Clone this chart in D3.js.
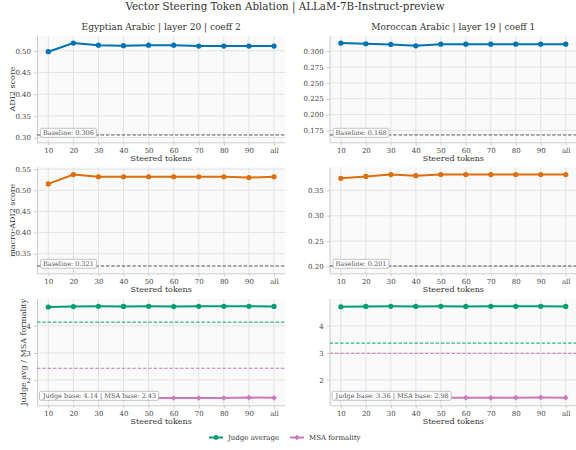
<!DOCTYPE html>
<html><head><meta charset="utf-8">
<script src="https://cdn.jsdelivr.net/npm/d3@7"></script>
<style>
html,body{margin:0;padding:0;background:#fff;}
svg{display:block;}
text{font-family:"DejaVu Serif",serif;}
</style></head>
<body>
<svg id="chart" width="576" height="450"></svg>
<script>
const tokens = ["10","20","30","40","50","60","70","80","90","all"];
const egyAdi2  = [0.498,0.518,0.513,0.512,0.513,0.513,0.511,0.511,0.511,0.511];
const morAdi2  = [0.3127,0.3116,0.3105,0.3084,0.311,0.311,0.311,0.311,0.311,0.311];
const egyMacro = [0.515,0.537,0.532,0.532,0.532,0.532,0.532,0.532,0.530,0.532];
const morMacro = [0.3736,0.3775,0.381,0.379,0.381,0.381,0.381,0.381,0.381,0.381];
const egyJudge = [4.70,4.715,4.725,4.72,4.725,4.715,4.725,4.725,4.725,4.72];
const egyMsa   = [1.33,1.33,1.33,1.33,1.33,1.33,1.33,1.33,1.345,1.335];
const morJudge = [4.70,4.715,4.72,4.715,4.72,4.715,4.72,4.72,4.72,4.715];
const morMsa   = [1.33,1.33,1.33,1.33,1.335,1.34,1.335,1.34,1.35,1.34];
const adi2Base  = [0.306, 0.168];
const macroBase = [0.321, 0.201];
const judgeBase = [4.14, 3.36];
const msaBase   = [2.43, 2.98];
const colTitles = ["Egyptian Arabic | layer 20 | coeff 2", "Moroccan Arabic | layer 19 | coeff 1"];
const mainTitle = "Vector Steering Token Ablation | ALLaM-7B-Instruct-preview";
const rowLabels = ["ADI2 score", "macro-ADI2 score", "Judge avg / MSA formality"];
const xLabel = "Steered tokens";
const ticksAdi2 = [[0.30,0.35,0.40,0.45,0.50],[0.175,0.200,0.225,0.250,0.275,0.300]];
const ticksMacro = [[0.35,0.40,0.45,0.50,0.55],[0.20,0.25,0.30,0.35]];
const ticksJudge = [[2,3,4],[2,3,4]];
const legendLabels = ["Judge average","MSA formality"];

const C = {blue:"#0173b2", orange:"#de6f0b", green:"#029e73", pink:"#cc78bc"};
const svg = d3.select("#chart");

const colX = [[37,285.3],[329.6,577]];
const rowY = [[35.7,142.3],[167.3,273.3],[299,405.3]];

svg.append("text").attr("x",285).attr("y",10).attr("text-anchor","middle")
  .attr("font-size",10.3).attr("fill","#333").text(mainTitle);

function panel(r,c,spec){
  const [x0,x1]=colX[c],[y0,y1]=rowY[r];
  const x=d3.scaleLinear().domain([-0.45,9.45]).range([x0,x1]);
  const all=spec.series.flatMap(s=>s.values).concat(spec.lowExtra||[]);
  const lo=d3.min(all), hi=d3.max(all), pad=0.08*(hi-lo);
  const y=d3.scaleLinear().domain([lo-pad,hi+pad]).range([y1,y0]);
  const g=svg.append("g");
  const clipId=`clip${r}${c}`;
  svg.append("clipPath").attr("id",clipId).append("rect").attr("x",x0).attr("y",y0).attr("width",x1-x0).attr("height",y1-y0);
  g.append("rect").attr("x",x0).attr("y",y0).attr("width",x1-x0).attr("height",y1-y0).attr("fill","#fafafa");
  // grid
  g.selectAll(".vg").data(tokens).join("line").attr("x1",(d,i)=>x(i)).attr("x2",(d,i)=>x(i))
    .attr("y1",y0).attr("y2",y1).attr("stroke","#e3e3e3").attr("stroke-width",1);
  g.selectAll(".hg").data(spec.ticks).join("line").attr("x1",x0).attr("x2",x1)
    .attr("y1",d=>y(d)).attr("y2",d=>y(d)).attr("stroke","#e3e3e3").attr("stroke-width",1);
  // axes
  const xa=d3.axisBottom(x).tickValues(d3.range(tokens.length)).tickFormat(i=>tokens[i]).tickSize(3).tickSizeOuter(0);
  const ya=d3.axisLeft(y).tickValues(spec.ticks).tickFormat(spec.fmt).tickSize(3).tickSizeOuter(0);
  const gx=g.append("g").attr("transform",`translate(0,${y1})`).call(xa);
  const gy=g.append("g").attr("transform",`translate(${x0},0)`).call(ya);
  [gx,gy].forEach(a=>{
    a.attr("font-family","DejaVu Serif");
    a.select(".domain").attr("stroke","#cccccc").attr("stroke-width",1);
    a.selectAll(".tick line").attr("stroke","#cccccc");
    a.selectAll(".tick text").attr("font-family","DejaVu Serif").attr("font-size",7).attr("fill","#444");
  });
  gx.select(".domain").attr("d",`M${x0},0.5H${x1}`);
  gy.select(".domain").attr("d",`M0.5,${y0}V${y1}`);
  svg.append("text").attr("x",(x0+x1)/2).attr("y",y1+19).attr("text-anchor","middle")
    .attr("font-size",8).attr("fill","#333").text(xLabel);
  if(c===0){
    const lx = r===2?23:12;
    svg.append("text").attr("transform",`translate(${lx+3},${(y0+y1)/2}) rotate(-90)`)
      .attr("text-anchor","middle").attr("font-size",8).attr("fill","#333").text(rowLabels[r]);
  }
  if(r===0){
    svg.append("text").attr("x",(x0+x1)/2).attr("y",30).attr("text-anchor","middle")
      .attr("font-size",9).attr("fill","#333").text(colTitles[c]);
  }
  const pg=g.append("g").attr("clip-path",`url(#${clipId})`);
  // baselines
  spec.bases.forEach(b=>{
    pg.append("line").attr("x1",x0).attr("x2",x1).attr("y1",y(b.v)).attr("y2",y(b.v))
      .attr("stroke",b.color).attr("stroke-width",1).attr("stroke-dasharray","3.5,1.8");
  });
  // series
  const line=d3.line().x((d,i)=>x(i)).y(d=>y(d));
  spec.series.forEach(s=>{
    pg.append("path").attr("d",line(s.values)).attr("fill","none").attr("stroke",s.color).attr("stroke-width",2);
    if(s.marker==="D"){
      pg.selectAll(null).data(s.values).join("path")
        .attr("d",d3.symbol(d3.symbolSquare,16))
        .attr("transform",(d,i)=>`translate(${x(i)},${y(d)}) rotate(45)`).attr("fill",s.color);
    } else {
      pg.selectAll(null).data(s.values).join("circle").attr("cx",(d,i)=>x(i)).attr("cy",d=>y(d))
        .attr("r",2.6).attr("fill",s.color);
    }
  });
  // annotation box
  const t=svg.append("text").attr("x",x0+6).attr("y",y1-7.5).attr("font-size",6.5).attr("fill","#555").text(spec.note);
  const bb=t.node().getBBox();
  svg.insert("rect",()=>t.node()).attr("x",bb.x-2.5).attr("y",bb.y-0.5).attr("width",bb.width+5).attr("height",bb.height+1)
    .attr("rx",1.5).attr("fill","#fff").attr("fill-opacity",0.95).attr("stroke","#aaa").attr("stroke-width",0.7);
}

[0,1].forEach(c=>{
  const adi=[egyAdi2,morAdi2][c], mac=[egyMacro,morMacro][c];
  const jd=[egyJudge,morJudge][c], ms=[egyMsa,morMsa][c];
  panel(0,c,{series:[{values:adi,color:C.blue}],lowExtra:[adi2Base[c]],ticks:ticksAdi2[c],
    fmt:c===0?d3.format(".2f"):d3.format(".3f"),
    bases:[{v:adi2Base[c],color:"#555"}],note:`Baseline: ${adi2Base[c].toFixed(3)}`});
  panel(1,c,{series:[{values:mac,color:C.orange}],lowExtra:[macroBase[c]],ticks:ticksMacro[c],
    fmt:d3.format(".2f"),bases:[{v:macroBase[c],color:"#555"}],note:`Baseline: ${macroBase[c].toFixed(3)}`});
  panel(2,c,{series:[{values:jd,color:C.green},{values:ms,color:C.pink,marker:"D"}],ticks:ticksJudge[c],
    fmt:d3.format("d"),bases:[{v:judgeBase[c],color:C.green},{v:msaBase[c],color:C.pink}],
    note:`Judge base: ${judgeBase[c].toFixed(2)} | MSA base: ${msaBase[c].toFixed(2)}`});
});

// legend
const leg=svg.append("g");
const items=[{label:legendLabels[0],color:C.green,m:"o",x:209},{label:legendLabels[1],color:C.pink,m:"D",x:290}];
items.forEach(it=>{
  leg.append("line").attr("x1",it.x).attr("x2",it.x+14).attr("y1",437.5).attr("y2",437.5).attr("stroke",it.color).attr("stroke-width",2);
  if(it.m==="o") leg.append("circle").attr("cx",it.x+7).attr("cy",437.5).attr("r",2.4).attr("fill",it.color);
  else leg.append("path").attr("d",d3.symbol(d3.symbolSquare,14)).attr("transform",`translate(${it.x+7},437.5) rotate(45)`).attr("fill",it.color);
  leg.append("text").attr("x",it.x+19).attr("y",440).attr("font-size",7).attr("fill","#333").text(it.label);
});
</script>
</body></html>
